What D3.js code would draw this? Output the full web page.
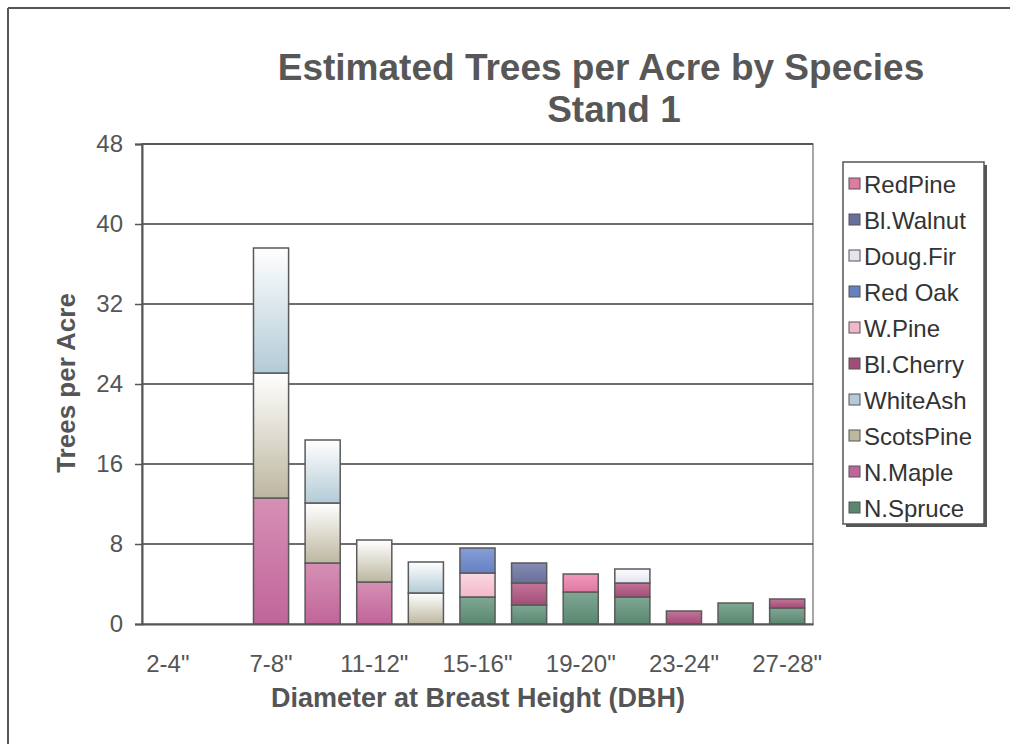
<!DOCTYPE html>
<html>
<head>
<meta charset="utf-8">
<script src="https://cdn.jsdelivr.net/npm/d3@7"></script>
<style>
    body { margin: 0; background: #ffffff; overflow: hidden; }
    svg { display: block; font-family: "Liberation Sans", Arial, sans-serif; }
</style>
</head>
<body>
<div id="chart"></div>
<script>

// diameter classes (x axis)
const categories = ['2-4"', '5-6"', '7-8"', '9-10"', '11-12"', '13-14"', '15-16"', '17-18"', '19-20"', '21-22"', '23-24"', '25-26"', '27-28"'];

// trees per acre, one array per species (stack order bottom -> top)
const nSpruce   = [0, 0, 0,    0,   0,   0,   2.7, 1.9, 3.2, 2.7, 0,   2.1, 1.6];
const nMaple    = [0, 0, 12.6, 6.1, 4.2, 0,   0,   0,   0,   0,   0,   0,   0];
const scotsPine = [0, 0, 12.5, 6.0, 4.2, 3.1, 0,   0,   0,   0,   0,   0,   0];
const whiteAsh  = [0, 0, 12.5, 6.3, 0,   3.1, 0,   0,   0,   0,   0,   0,   0];
const blCherry  = [0, 0, 0,    0,   0,   0,   0,   2.2, 0,   1.4, 1.3, 0,   0.9];
const wPine     = [0, 0, 0,    0,   0,   0,   2.4, 0,   0,   0,   0,   0,   0];
const redOak    = [0, 0, 0,    0,   0,   0,   2.5, 0,   0,   0,   0,   0,   0];
const dougFir   = [0, 0, 0,    0,   0,   0,   0,   0,   0,   1.4, 0,   0,   0];
const blWalnut  = [0, 0, 0,    0,   0,   0,   0,   2.0, 0,   0,   0,   0,   0];
const redPine   = [0, 0, 0,    0,   0,   0,   0,   0,   1.8, 0,   0,   0,   0];

const speciesNames = ["N.Spruce", "N.Maple", "ScotsPine", "WhiteAsh", "Bl.Cherry", "W.Pine", "Red Oak", "Doug.Fir", "Bl.Walnut", "RedPine"];
const seriesValues = [nSpruce, nMaple, scotsPine, whiteAsh, blCherry, wPine, redOak, dougFir, blWalnut, redPine];

const yTicks = [0, 8, 16, 24, 32, 40, 48];
const xTickLabels = ['2-4"', '7-8"', '11-12"', '15-16"', '19-20"', '23-24"', '27-28"'];

// gradient colours per species [top, bottom]
const fills = {
    "N.Spruce":  ["#7fa894", "#5a8670"],
    "N.Maple":   ["#d690b4", "#c0659a"],
    "ScotsPine": ["#ffffff", "#bdb7a0"],
    "WhiteAsh":  ["#ffffff", "#b3cbd6"],
    "Bl.Cherry": ["#c47498", "#a24d78"],
    "W.Pine":    ["#fbd8e2", "#f2b8c9"],
    "Red Oak":   ["#859ed8", "#6681c2"],
    "Doug.Fir":  ["#fbfbff", "#e4e4f0"],
    "Bl.Walnut": ["#858db2", "#686f9a"],
    "RedPine":   ["#f197bb", "#df7aa2"]
};

// build rows for d3.stack
let rows = categories.map((c, i) => {
    let row = {cat: c};
    speciesNames.forEach((s, j) => { row[s] = seriesValues[j][i]; });
    return row;
});

let width = 1010, height = 744;
let margin = {top: 144, right: 197, bottom: 120, left: 142};
let plotW = width - margin.left - margin.right;
let plotH = height - margin.top - margin.bottom;

let svg = d3.select("#chart").append("svg")
    .attr("width", width)
    .attr("height", height);

// gradients
let defs = svg.append("defs");
speciesNames.forEach((s, i) => {
    let g = defs.append("linearGradient")
        .attr("id", "grad" + i)
        .attr("x1", "0%").attr("y1", "0%")
        .attr("x2", "0%").attr("y2", "100%");
    g.append("stop").attr("offset", "0%").attr("stop-color", fills[s][0]);
    g.append("stop").attr("offset", "100%").attr("stop-color", fills[s][1]);
});

// outer chart border (only top and left visible)
svg.append("line")
    .attr("x1", 8).attr("y1", 8).attr("x2", width).attr("y2", 8)
    .attr("stroke", "#555").attr("stroke-width", 2);
svg.append("line")
    .attr("x1", 8).attr("y1", 8).attr("x2", 8).attr("y2", height)
    .attr("stroke", "#555").attr("stroke-width", 2);

// title
svg.append("text")
    .attr("x", 601).attr("y", 80)
    .attr("text-anchor", "middle")
    .attr("font-size", 37).attr("font-weight", "bold")
    .attr("fill", "#575757")
    .text("Estimated Trees per Acre by Species");
svg.append("text")
    .attr("x", 614).attr("y", 122)
    .attr("text-anchor", "middle")
    .attr("font-size", 37).attr("font-weight", "bold")
    .attr("fill", "#575757")
    .text("Stand 1");

let plot = svg.append("g")
    .attr("transform", `translate(${margin.left},${margin.top})`);

let x = d3.scaleBand()
    .domain(categories)
    .range([0, plotW])
    .paddingInner(0.32)
    .paddingOuter(0.16);

let y = d3.scaleLinear()
    .domain([0, 48])
    .range([plotH, 0]);

// plot area border
plot.append("rect")
    .attr("width", plotW).attr("height", plotH)
    .attr("fill", "none")
    .attr("stroke", "#8a8a8a")
    .attr("stroke-width", 1.5);

// gridlines
plot.append("g")
    .selectAll("line")
    .data(yTicks.filter(d => d > 0))
    .enter()
    .append("line")
    .attr("x1", 0).attr("x2", plotW)
    .attr("y1", d => y(d)).attr("y2", d => y(d))
    .attr("stroke", "#3c3c3c")
    .attr("stroke-width", 1.5);

// stacked bars
let stacked = d3.stack().keys(speciesNames)(rows);

plot.append("g")
    .selectAll("g")
    .data(stacked)
    .enter()
    .append("g")
    .attr("fill", (d, i) => `url(#grad${i})`)
    .selectAll("rect")
    .data(d => d.filter(p => p[1] - p[0] > 0))
    .enter()
    .append("rect")
    .attr("x", d => x(d.data.cat))
    .attr("y", d => y(d[1]))
    .attr("width", x.bandwidth())
    .attr("height", d => y(d[0]) - y(d[1]))
    .attr("stroke", "#5a5a5a")
    .attr("stroke-width", 1.5);

// y axis
let yAxis = d3.axisLeft(y)
    .tickValues(yTicks)
    .tickSize(7)
    .tickPadding(12);

let yg = plot.append("g").call(yAxis);
yg.select(".domain").attr("stroke", "#555").attr("stroke-width", 2);
yg.selectAll(".tick line").attr("stroke", "#555").attr("stroke-width", 1.5);
yg.selectAll(".tick text")
    .attr("font-size", 24)
    .attr("fill", "#555")
    .attr("font-family", "Liberation Sans, Arial, sans-serif");

// x axis
let xAxis = d3.axisBottom(x)
    .tickValues(xTickLabels)
    .tickSize(0)
    .tickPadding(30);

let xg = plot.append("g")
    .attr("transform", `translate(0,${plotH})`)
    .call(xAxis);
xg.select(".domain").attr("stroke", "#555").attr("stroke-width", 2);
xg.selectAll(".tick text")
    .attr("font-size", 24)
    .attr("dy", 0)
    .attr("fill", "#555")
    .attr("font-family", "Liberation Sans, Arial, sans-serif");
xg.selectAll(".tick text").attr("y", 48);

// axis titles
svg.append("text")
    .attr("transform", `translate(75,${margin.top + plotH / 2 - 1}) rotate(-90)`)
    .attr("text-anchor", "middle")
    .attr("font-size", 26).attr("font-weight", "bold")
    .attr("fill", "#555")
    .text("Trees per Acre");

svg.append("text")
    .attr("x", 478).attr("y", 707)
    .attr("text-anchor", "middle")
    .attr("font-size", 27).attr("font-weight", "bold")
    .attr("fill", "#555")
    .text("Diameter at Breast Height (DBH)");

// legend (reverse order, like Excel)
let legend = svg.append("g")
    .attr("transform", "translate(843,162)");

legend.append("rect")
    .attr("x", 3).attr("y", 3)
    .attr("width", 141).attr("height", 362)
    .attr("fill", "#555");
legend.append("rect")
    .attr("width", 141).attr("height", 362)
    .attr("fill", "#fff")
    .attr("stroke", "#555")
    .attr("stroke-width", 1.5);

let legendItems = speciesNames.map((s, i) => ({name: s, idx: i})).reverse();

let items = legend.selectAll(".item")
    .data(legendItems)
    .enter()
    .append("g")
    .attr("class", "item")
    .attr("transform", (d, i) => `translate(0,${31 + i * 36})`);

items.append("rect")
    .attr("x", 6).attr("y", -15)
    .attr("width", 11).attr("height", 11)
    .attr("fill", d => fills[d.name][1])
    .attr("stroke", "#555")
    .attr("stroke-width", 1);

items.append("text")
    .attr("x", 21).attr("y", 0)
    .attr("font-size", 24)
    .attr("fill", "#333")
    .text(d => d.name);

</script>
</body>
</html>
